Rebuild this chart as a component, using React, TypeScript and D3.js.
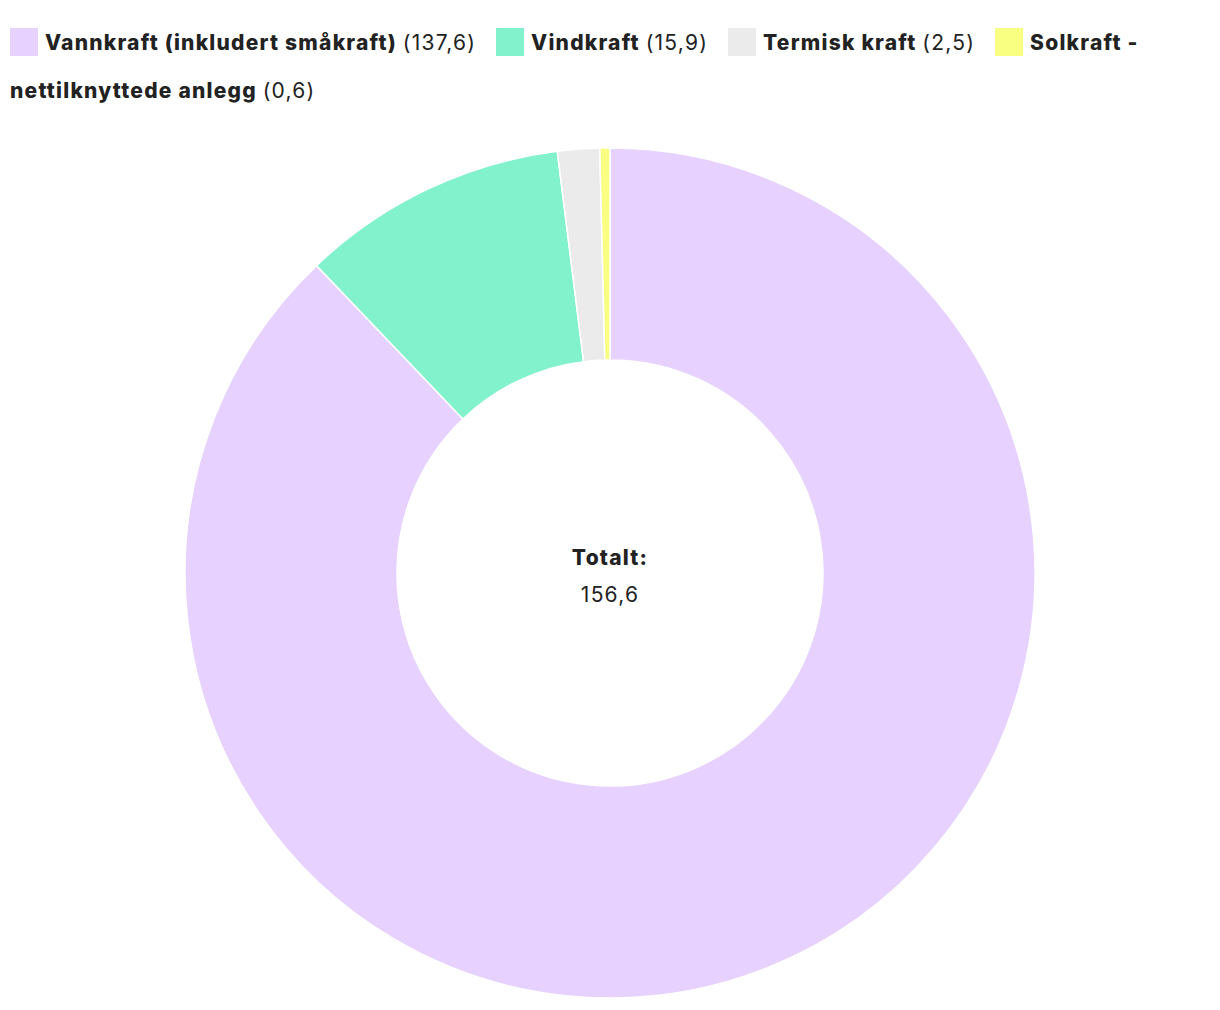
import React from "react";
import * as d3 from "d3";

const categories = ["Vannkraft (inkludert småkraft)", "Vindkraft", "Termisk kraft", "Solkraft - nettilknyttede anlegg"];
const values = [137.6, 15.9, 2.5, 0.6];
const valueLabels = ["137,6", "15,9", "2,5", "0,6"];
const colors = ["#E7D1FF", "#82F2CD", "#EBEBEB", "#F9FF80"];
const totalLabel = "Totalt:";
const totalValue = "156,6";

const W = 1220;
const H = 1010;
const FONT_NAME = "Inter";
const FONT = "Inter, 'Noto Sans', sans-serif";
const FS = 21;
const BOLD = 800;

const ctx = document.createElement("canvas").getContext("2d")!;
function rawMeasure(text: string, bold: boolean) {
  ctx.font = `${bold ? BOLD + " " : ""}${FS}px ${FONT_NAME}`;
  return ctx.measureText(text).width;
}
const refText = categories[0];
const LS = Math.max(0, (352 - rawMeasure(refText, true)) / refText.length);
function measure(text: string, bold: boolean) {
  return rawMeasure(text, bold) + LS * text.length;
}

type Tok = { kind: "sq" | "txt"; text?: string; bold?: boolean; color?: string; x: number; line: number; w: number };

function layoutLegend(maxX: number) {
  const toks: Tok[] = [];
  let x = 10;
  let line = 0;
  const space = measure(" ", true);
  categories.forEach((cat, i) => {
    if (i > 0) x += 20;
    if (x + 28 > maxX) { x = 10; line++; }
    toks.push({ kind: "sq", color: colors[i], x, line, w: 28 });
    x += 35;
    const words: { t: string; b: boolean }[] = cat.split(" ").map((t) => ({ t, b: true }));
    words.push({ t: `(${valueLabels[i]})`, b: false });
    words.forEach((wd, j) => {
      const w = measure(wd.t, wd.b);
      if (x + w > maxX) { x = 10; line++; }
      toks.push({ kind: "txt", text: wd.t, bold: wd.b, x, line, w });
      x += w + (j < words.length - 1 ? space : 0);
    });
  });
  return toks;
}

export default function App() {
  const cx = 610, cy = 573, outerR = 425, innerR = 213;
  const pie = d3.pie<number>().sort(null).value((d) => d)(values);
  const arc = d3.arc<d3.PieArcDatum<number>>().innerRadius(innerR).outerRadius(outerR);
  const toks = layoutLegend(1210);
  const lineY = (l: number) => 50 + l * 48;

  return (
    <svg width={W} height={H} style={{ position: "absolute", left: 0, top: 0, fontFamily: FONT }}>
      <rect width={W} height={H} fill="#fff" />
      <g transform={`translate(${cx},${cy})`}>
        {pie.map((p, i) => (
          <path key={i} d={arc(p) || ""} fill={colors[i]} stroke="#fff" strokeWidth={1.5} />
        ))}
        <text y={-8} textAnchor="middle" fontSize={FS} fontWeight={BOLD} letterSpacing={LS} fill="#222">{totalLabel}</text>
        <text y={29} textAnchor="middle" fontSize={FS} letterSpacing={LS} fill="#222">{totalValue}</text>
      </g>
      <g>
        {toks.map((t, i) =>
          t.kind === "sq" ? (
            <rect key={i} x={t.x} y={lineY(t.line) - 22} width={28} height={28} fill={t.color} />
          ) : (
            <text key={i} x={t.x} y={lineY(t.line)} fontSize={FS} fontWeight={t.bold ? BOLD : 400} letterSpacing={LS} fill="#222">{t.text}</text>
          )
        )}
      </g>
    </svg>
  );
}
